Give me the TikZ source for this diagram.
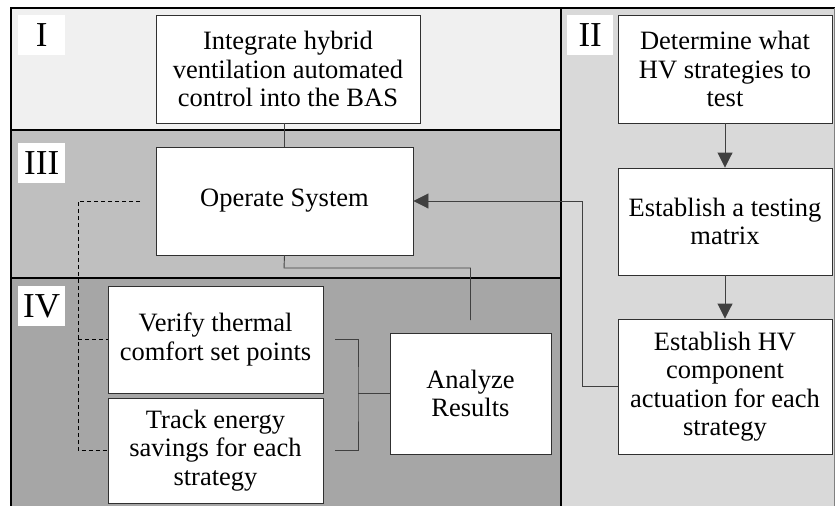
\documentclass[tikz,border=0pt]{standalone}
\usepackage{fontspec}
\setmainfont{Liberation Serif}
\usetikzlibrary{arrows.meta}
\definecolor{regI}{HTML}{F0F0F0}
\definecolor{regII}{HTML}{D9D9D9}
\definecolor{regIII}{HTML}{BFBFBF}
\definecolor{regIV}{HTML}{A6A6A6}
\definecolor{boxline}{HTML}{303030}
\definecolor{conn}{HTML}{404040}
\begin{document}
\begin{tikzpicture}[x=1pt,y=-1pt,
  stepbox/.style={draw=boxline, line width=0.9pt, fill=white, align=center, inner sep=2pt,
    font=\fontsize{26.5}{28.5}\selectfont},
  numbox/.style={fill=white, anchor=north west, minimum height=40pt, minimum width=47pt,
    inner sep=0pt, align=center, font=\fontsize{35}{35}\selectfont},
  frameline/.style={line width=2pt, black},
  link/.style={draw=conn, line width=0.9pt},
  dlink/.style={draw=black, line width=0.8pt, dash pattern=on 4pt off 3pt},
  arr/.style={link, -{Triangle[length=15pt, width=15pt]}}]
\useasboundingbox (0,0) rectangle (835,506);
% regions
\fill[regI] (11,8) rectangle (561,130);
\fill[regIII] (11,130) rectangle (561,278);
\fill[regIV] (11,278) rectangle (561,506);
\fill[regII] (561,8) rectangle (835,506);
\draw[frameline] (11,8) -- (835,8);
\draw[frameline] (11,7) -- (11,506);
\draw[frameline] (561,8) -- (561,506);
\draw[frameline] (11,130) -- (561,130);
\draw[frameline] (11,278) -- (561,278);
\draw[gray, line width=1pt] (834.5,8) -- (834.5,506);
% labels
\node[numbox] (lI) at (18,15) {I};
\node[numbox] (lIII) at (18,143) {III};
\node[numbox] (lIV) at (18,286) {IV};
\node[numbox, minimum width=46pt] (lII) at (567,15) {II};
% boxes
\node[stepbox, minimum width=264pt, minimum height=108pt] (integ) at (288,69)
  {Integrate hybrid\\ventilation automated\\control into the BAS};
\node[stepbox, minimum width=257pt, minimum height=108pt] (oper) at (284.5,201) {Operate System};
\node[stepbox, minimum width=215pt, minimum height=107pt] (verify) at (215.5,339.5)
  {Verify thermal\\comfort set points};
\node[stepbox, minimum width=215pt, minimum height=105pt] (track) at (215.5,450.5)
  {Track energy\\savings for each\\strategy};
\node[stepbox, minimum width=161pt, minimum height=121pt] (analyze) at (470.5,393.5)
  {Analyze\\Results};
\node[stepbox, minimum width=214pt, minimum height=108pt] (determ) at (725,69)
  {Determine what\\HV strategies to\\test};
\node[stepbox, minimum width=214pt, minimum height=107pt] (matrix) at (725,221.5)
  {Establish a testing\\matrix};
\node[stepbox, minimum width=214pt, minimum height=135pt] (actu) at (725,386.5)
  {Establish HV\\component\\actuation for each\\strategy};
% connectors
\draw[link] (oper.north -| 284,0) -- (integ.south -| 284,0);
\coordinate (opdrop) at (284,268);
\coordinate (anend) at (470.5,320);
\draw[link] (oper.south) -- (opdrop) -| (anend);
\coordinate (bT) at (335,339.5);
\coordinate (bB) at (335,450.5);
\coordinate (bM) at (358,393.5);
\draw[link] (bT) -| (bM) |- (bB);
\draw[link] (bM) -- (analyze.west);
\coordinate (dstart) at (140,201);
\coordinate (dcorner) at (78,201);
\draw[dlink] (dstart) -- (dcorner) |- (track.west);
\draw[dlink] (dcorner |- verify.west) -- (verify.west);
\draw[arr] (determ.south) -- (matrix.north);
\draw[arr] (matrix.south) -- (actu.north);
\coordinate (bend) at (582,386.5);
\draw[arr] (actu.west) -- (bend) |- (oper.east);
\end{tikzpicture}
\end{document}
